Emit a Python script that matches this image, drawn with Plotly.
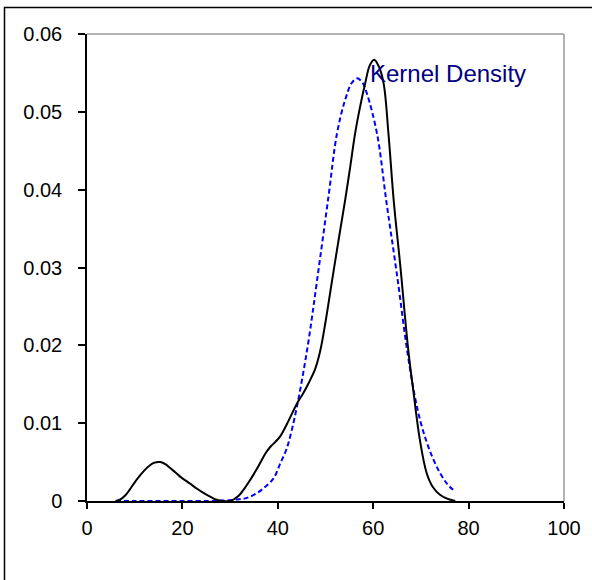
import plotly.graph_objects as go

# Kernel density (black solid)
kde_x = [6, 7, 8, 9, 10, 11, 12, 13, 14, 15.4, 16.5, 17.5, 18.5, 19.6, 21.7, 23, 24.5, 26, 27, 28.5,
         30, 31, 32, 33, 34, 35.5, 36.5, 37.4, 38.5, 39.5, 40.5, 42, 44, 45.3, 46.5, 47.8, 48.9,
         50, 51.5, 53, 54.1, 55.2, 56.2, 57.3, 58.3, 59.3, 60.2, 61.2, 62.2, 63.2, 64.3, 65.7,
         67.3, 68.4, 69.8, 71.2, 72.5, 74, 75.5, 77.2]
kde_y = [0, 0.0002, 0.0007, 0.0015, 0.0024, 0.0032, 0.0039, 0.0045, 0.0049, 0.0050, 0.0047,
         0.0042, 0.0037, 0.0031, 0.0022, 0.0016, 0.0010, 0.0005, 0.0002, 0.0000, 0.0000,
         0.0003, 0.0008, 0.0016, 0.0025, 0.0040, 0.0051, 0.0061, 0.0070, 0.0076, 0.0083,
         0.0100, 0.0125, 0.0138, 0.0152, 0.0169, 0.0193, 0.0230, 0.0288, 0.0345, 0.0386,
         0.0430, 0.0472, 0.0508, 0.0536, 0.0560, 0.0567, 0.0558, 0.0536, 0.0472, 0.0386,
         0.0301, 0.0197, 0.0142, 0.0078, 0.0036, 0.0018, 0.0008, 0.0003, 0.0]

# Normal fit (blue dashed)
norm_x = [6, 10, 15, 20, 25, 28, 31.5, 33.5, 35.6, 37.5, 39.1, 40.5, 41.9, 43, 44, 45.2,
          46.5, 48.2, 50.6, 52.4, 54.1, 55.5, 56.6, 57.7, 58.7, 60.8, 62.8, 65.0, 67.1,
          68.8, 70, 71.2, 72.5, 74, 75.5, 77.2]
norm_y = [0, 0, 0, 0, 0, 0.00005, 0.0002, 0.0004, 0.0010, 0.0019, 0.0029, 0.0048, 0.0068,
          0.0093, 0.0121, 0.0160, 0.0208, 0.0282, 0.0390, 0.0472, 0.0515, 0.0537, 0.0543,
          0.0538, 0.0523, 0.0472, 0.0383, 0.0290, 0.0194, 0.0132, 0.0100, 0.0076, 0.0055,
          0.0036, 0.0022, 0.0012]

x_ticks = [0, 20, 40, 60, 80, 100]
y_ticks = [0, 0.01, 0.02, 0.03, 0.04, 0.05, 0.06]
y_tick_text = ["0", "0.01", "0.02", "0.03", "0.04", "0.05", "0.06"]
label_text = "Kernel Density"

fig = go.Figure()
fig.add_trace(go.Scatter(x=norm_x, y=norm_y, mode="lines",
                         line=dict(color="#0000FF", width=2, dash="5px,3px", shape="spline", smoothing=1.0),
                         showlegend=False, hoverinfo="skip"))
fig.add_trace(go.Scatter(x=kde_x, y=kde_y, mode="lines",
                         line=dict(color="#000000", width=2, shape="spline", smoothing=1.0),
                         showlegend=False, hoverinfo="skip"))

W, H = 592, 580
L, R, T, B = 87, 28, 34, 79
pw, ph = W - L - R, H - T - B

def px_to_paper_x(px):
    return (px - L) / pw

def py_to_paper_y(py):
    return (H - B - py) / ph

fig.update_layout(
    width=W, height=H,
    margin=dict(l=L, r=R, t=T, b=B, pad=0),
    paper_bgcolor="white", plot_bgcolor="white",
    font=dict(family="Liberation Sans, Arial, sans-serif", size=20, color="black"),
    showlegend=False,
    xaxis=dict(range=[0, 100], tickvals=x_ticks, ticks="outside", ticklen=6, tickwidth=1.5,
               tickcolor="black", showline=True, linecolor="black", linewidth=1.5,
               showgrid=False, zeroline=False, ticklabelstandoff=2),
    yaxis=dict(range=[0, 0.06], tickvals=y_ticks, ticktext=y_tick_text, ticks="outside",
               ticklen=7, tickwidth=1.5, tickcolor="black", showline=True, linecolor="black",
               linewidth=1.5, showgrid=False, zeroline=False, ticklabelstandoff=12),
    shapes=[
        dict(type="line", xref="paper", yref="paper", x0=0, x1=1, y0=1, y1=1,
             line=dict(color="#9a9a9a", width=1.5)),
        dict(type="line", xref="paper", yref="paper", x0=1, x1=1, y0=0, y1=1,
             line=dict(color="#9a9a9a", width=1.5)),
        dict(type="rect", xref="paper", yref="paper",
             x0=px_to_paper_x(4.5), x1=px_to_paper_x(620),
             y0=py_to_paper_y(620), y1=py_to_paper_y(7.5),
             line=dict(color="black", width=1.5), fillcolor="rgba(0,0,0,0)", layer="below"),
    ],
    annotations=[
        dict(x=58.9, y=0.0549, xref="x", yref="y", text=label_text, showarrow=False,
             xanchor="left", yanchor="middle",
             font=dict(family="Liberation Sans, Arial, sans-serif", size=24, color="#000080")),
    ],
)

fig.write_html("out.html", config={"displayModeBar": False},
               post_script="document.body.style.margin='0';document.body.style.overflow='hidden';")
